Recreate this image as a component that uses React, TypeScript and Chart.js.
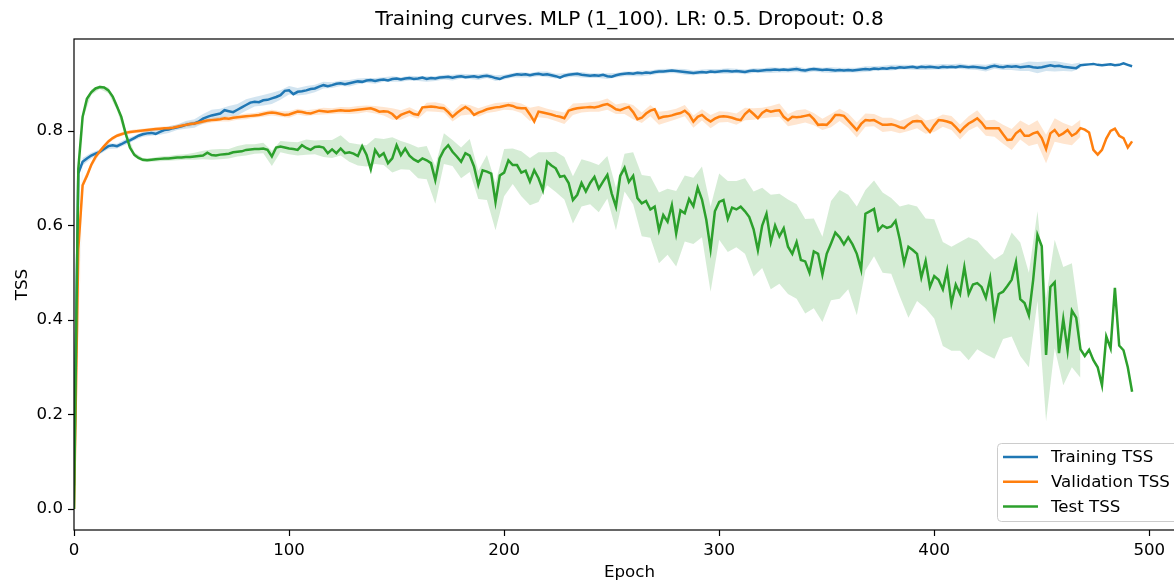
import { useEffect, useRef } from "react";
import { Chart, registerables } from "chart.js";

Chart.register(...registerables);

// ---------- data (epochs every 2, 0..492) ----------
const TRAIN = [
  0.05, 0.71, 0.735, 0.742, 0.748, 0.752, 0.756, 0.762, 0.768, 0.770,
  0.768, 0.772, 0.777, 0.780, 0.785, 0.790, 0.793, 0.795, 0.796, 0.794,
  0.798, 0.802, 0.803, 0.806, 0.808, 0.810, 0.813, 0.815, 0.816, 0.820,
  0.826, 0.830, 0.833, 0.835, 0.837, 0.844, 0.842, 0.840, 0.845, 0.850,
  0.855, 0.860, 0.862, 0.861, 0.865, 0.866, 0.869, 0.872, 0.876, 0.885,
  0.886, 0.878, 0.883, 0.884, 0.886, 0.889, 0.890, 0.894, 0.897, 0.895,
  0.897, 0.900, 0.901, 0.899, 0.901, 0.903, 0.905, 0.904, 0.907, 0.908,
  0.906, 0.908, 0.909, 0.907, 0.910, 0.911, 0.909, 0.911, 0.912, 0.910,
  0.911, 0.913, 0.910, 0.912, 0.911, 0.913, 0.914, 0.915, 0.913, 0.915,
  0.916, 0.914, 0.915, 0.916, 0.914, 0.916, 0.917, 0.915, 0.912, 0.910,
  0.914, 0.916, 0.918, 0.920, 0.919, 0.920, 0.918, 0.920, 0.921, 0.919,
  0.920, 0.918, 0.916, 0.913, 0.917, 0.919, 0.920, 0.921, 0.919, 0.918,
  0.917, 0.918, 0.917, 0.919, 0.916, 0.915, 0.918, 0.920, 0.921, 0.922,
  0.921, 0.923, 0.922, 0.924, 0.923, 0.925, 0.926, 0.926, 0.927, 0.928,
  0.927, 0.926, 0.925, 0.924, 0.923, 0.924, 0.925, 0.924, 0.926, 0.925,
  0.926, 0.927, 0.927, 0.926, 0.927, 0.926, 0.925, 0.927, 0.928, 0.927,
  0.928, 0.929, 0.929, 0.930, 0.929, 0.930, 0.929, 0.930, 0.931, 0.929,
  0.928, 0.930, 0.931, 0.930, 0.929, 0.930, 0.929, 0.928, 0.929, 0.928,
  0.929, 0.928, 0.929, 0.930, 0.931, 0.930, 0.932, 0.931, 0.933, 0.932,
  0.934, 0.933, 0.935, 0.934, 0.935, 0.936, 0.934, 0.936, 0.935, 0.936,
  0.935, 0.934, 0.936, 0.935, 0.936, 0.935, 0.937, 0.936, 0.935, 0.936,
  0.935, 0.934, 0.933, 0.936, 0.938, 0.936, 0.935, 0.937, 0.936, 0.937,
  0.935, 0.936, 0.937, 0.935, 0.934, 0.935, 0.937, 0.939, 0.937, 0.938,
  0.936, 0.935, 0.934, 0.933, 0.939, 0.940, 0.941, 0.942, 0.940, 0.939,
  0.940, 0.941, 0.939, 0.940, 0.943, 0.940, 0.937,
];

const VAL = [
  0.0, 0.55, 0.685, 0.705, 0.728, 0.745, 0.757, 0.768, 0.778, 0.785,
  0.790, 0.793, 0.796, 0.798, 0.799, 0.800, 0.801, 0.802, 0.803, 0.804,
  0.805, 0.806, 0.806, 0.807, 0.809, 0.811, 0.813, 0.815, 0.816, 0.818,
  0.820, 0.822, 0.823, 0.824, 0.825, 0.827, 0.826, 0.828, 0.829, 0.830,
  0.831, 0.832, 0.833, 0.834, 0.836, 0.838, 0.839, 0.838, 0.836, 0.834,
  0.835, 0.838, 0.841, 0.840, 0.838, 0.837, 0.840, 0.843, 0.842, 0.841,
  0.842, 0.843, 0.844, 0.843, 0.843, 0.844, 0.845, 0.846, 0.847, 0.848,
  0.845, 0.841, 0.842, 0.841, 0.836, 0.827, 0.834, 0.838, 0.841, 0.836,
  0.834, 0.850, 0.851, 0.852, 0.851, 0.849, 0.848, 0.840, 0.830, 0.838,
  0.845, 0.851, 0.845, 0.834, 0.839, 0.842, 0.846, 0.848, 0.850, 0.851,
  0.853, 0.855, 0.853, 0.849, 0.848, 0.848, 0.835, 0.820, 0.841, 0.839,
  0.837, 0.835, 0.832, 0.830, 0.827, 0.843, 0.846, 0.848, 0.849, 0.850,
  0.851, 0.850, 0.852, 0.855, 0.857, 0.852, 0.846, 0.844, 0.848, 0.851,
  0.840, 0.825, 0.828, 0.837, 0.843, 0.846, 0.827, 0.830, 0.831, 0.833,
  0.836, 0.838, 0.843, 0.835, 0.820, 0.830, 0.834, 0.826, 0.820, 0.826,
  0.830, 0.831, 0.830, 0.828, 0.825, 0.823, 0.836, 0.844, 0.836, 0.827,
  0.838, 0.844, 0.841, 0.843, 0.844, 0.830, 0.823, 0.830, 0.829, 0.830,
  0.832, 0.834, 0.825, 0.813, 0.814, 0.813, 0.822, 0.834, 0.834, 0.832,
  0.822, 0.812, 0.802, 0.815, 0.823, 0.822, 0.823, 0.818, 0.813, 0.813,
  0.814, 0.812, 0.808, 0.806, 0.814, 0.820, 0.821, 0.820, 0.808, 0.798,
  0.812, 0.823, 0.822, 0.820, 0.817, 0.808, 0.798, 0.808, 0.816, 0.821,
  0.827, 0.818, 0.806, 0.806, 0.806, 0.806, 0.793, 0.781, 0.782, 0.795,
  0.802, 0.790, 0.790, 0.795, 0.798, 0.785, 0.762, 0.795, 0.802, 0.790,
  0.795, 0.802, 0.790, 0.795, 0.806, 0.803, 0.797, 0.760, 0.750, 0.760,
  0.784, 0.800, 0.805, 0.790, 0.785, 0.765, 0.778,
];

const TEST = [
  0.0, 0.72, 0.83, 0.868, 0.882, 0.890, 0.893, 0.892, 0.886, 0.873,
  0.852, 0.830, 0.795, 0.765, 0.750, 0.743, 0.739, 0.738, 0.739, 0.740,
  0.741, 0.742, 0.742, 0.743, 0.744, 0.744, 0.745, 0.745, 0.746, 0.747,
  0.748, 0.754, 0.749, 0.748, 0.750, 0.751, 0.752, 0.755, 0.756, 0.757,
  0.760, 0.761, 0.762, 0.762, 0.763, 0.760, 0.746, 0.765, 0.767, 0.765,
  0.763, 0.762, 0.760, 0.770, 0.764, 0.760, 0.766, 0.767, 0.765, 0.753,
  0.761, 0.753, 0.763, 0.753, 0.755, 0.752, 0.747, 0.768, 0.750, 0.719,
  0.760, 0.746, 0.753, 0.732, 0.742, 0.770, 0.749, 0.763, 0.748, 0.740,
  0.735, 0.742, 0.738, 0.732, 0.696, 0.742, 0.760, 0.770, 0.756, 0.746,
  0.735, 0.753, 0.748, 0.725, 0.686, 0.717, 0.714, 0.710, 0.650, 0.706,
  0.712, 0.738, 0.728, 0.728, 0.712, 0.716, 0.693, 0.717, 0.700, 0.675,
  0.735, 0.727, 0.721, 0.703, 0.705, 0.690, 0.654, 0.665, 0.690, 0.672,
  0.690, 0.703, 0.678, 0.693, 0.707, 0.668, 0.640, 0.705, 0.722, 0.692,
  0.705, 0.658, 0.647, 0.652, 0.634, 0.640, 0.590, 0.622, 0.608, 0.643,
  0.583, 0.632, 0.626, 0.656, 0.641, 0.680, 0.655, 0.612, 0.550, 0.630,
  0.650, 0.654, 0.614, 0.638, 0.634, 0.640, 0.630, 0.618, 0.592, 0.548,
  0.600, 0.625, 0.565, 0.600, 0.577, 0.594, 0.555, 0.540, 0.565, 0.527,
  0.524, 0.500, 0.545, 0.540, 0.496, 0.540, 0.562, 0.585, 0.575, 0.560,
  0.575, 0.560, 0.540, 0.507, 0.625, 0.630, 0.635, 0.590, 0.600, 0.595,
  0.598, 0.610, 0.570, 0.520, 0.555, 0.548, 0.540, 0.490, 0.525, 0.470,
  0.493, 0.485, 0.465, 0.505, 0.435, 0.475, 0.455, 0.512, 0.455, 0.475,
  0.478, 0.470, 0.447, 0.488, 0.408, 0.455, 0.460, 0.472, 0.485, 0.522,
  0.444, 0.436, 0.410, 0.485, 0.580, 0.556, 0.326, 0.470, 0.480, 0.330,
  0.402, 0.336, 0.420, 0.405, 0.338, 0.324, 0.337, 0.315, 0.300, 0.262,
  0.365, 0.340, 0.468, 0.346, 0.336, 0.300, 0.248,
];

// ---------- bands (epochs every 4, 0..468) ----------
const TRAIN_SPREAD = [
  0.01, 0.008, 0.006, 0.005, 0.006, 0.005, 0.006, 0.005, 0.005, 0.006,
  0.006, 0.007, 0.006, 0.008, 0.009, 0.01, 0.012, 0.01, 0.011, 0.012,
  0.012, 0.01, 0.011, 0.012, 0.01, 0.009, 0.008, 0.009, 0.008, 0.007,
  0.006, 0.006, 0.007, 0.006, 0.005, 0.006, 0.005, 0.006, 0.005, 0.005,
  0.005, 0.006, 0.005, 0.005, 0.006, 0.005, 0.005, 0.006, 0.005, 0.006,
  0.005, 0.005, 0.006, 0.005, 0.005, 0.006, 0.005, 0.005, 0.005, 0.006,
  0.005, 0.005, 0.006, 0.005, 0.005, 0.005, 0.006, 0.005, 0.005, 0.005,
  0.005, 0.006, 0.005, 0.005, 0.005, 0.005, 0.006, 0.005, 0.005, 0.005,
  0.005, 0.006, 0.005, 0.005, 0.006, 0.005, 0.005, 0.005, 0.006, 0.005,
  0.005, 0.005, 0.006, 0.005, 0.005, 0.006, 0.005, 0.005, 0.005, 0.006,
  0.005, 0.006, 0.005, 0.006, 0.005, 0.006, 0.007, 0.006, 0.006, 0.007,
  0.008, 0.01, 0.012, 0.01, 0.011, 0.009, 0.008, 0.006,
];

const VAL_SPREAD = [
  0.0, 0.008, 0.006, 0.005, 0.004, 0.004, 0.004, 0.004, 0.004, 0.004,
  0.004, 0.004, 0.005, 0.005, 0.005, 0.005, 0.005, 0.005, 0.006, 0.005,
  0.006, 0.005, 0.006, 0.006, 0.006, 0.007, 0.006, 0.006, 0.006, 0.007,
  0.006, 0.007, 0.007, 0.008, 0.007, 0.008, 0.009, 0.012, 0.01, 0.009,
  0.008, 0.009, 0.01, 0.009, 0.01, 0.012, 0.01, 0.009, 0.008, 0.009,
  0.008, 0.009, 0.01, 0.014, 0.012, 0.01, 0.011, 0.012, 0.012, 0.01,
  0.01, 0.011, 0.012, 0.01, 0.012, 0.015, 0.011, 0.012, 0.014, 0.012,
  0.011, 0.012, 0.013, 0.012, 0.014, 0.012, 0.011, 0.012, 0.013, 0.012,
  0.011, 0.012, 0.014, 0.013, 0.015, 0.014, 0.013, 0.012, 0.014, 0.013,
  0.015, 0.016, 0.014, 0.013, 0.015, 0.014, 0.013, 0.014, 0.015, 0.014,
  0.014, 0.013, 0.015, 0.016, 0.015, 0.017, 0.016, 0.018, 0.02, 0.022,
  0.02, 0.022, 0.025, 0.03, 0.025, 0.022, 0.02, 0.018,
];

const TEST_UP = [
  0.0, 0.006, 0.006, 0.004, 0.006, 0.008, 0.008, 0.005, 0.004, 0.004,
  0.005, 0.005, 0.006, 0.006, 0.008, 0.01, 0.012, 0.012, 0.01, 0.012,
  0.012, 0.01, 0.012, 0.012, 0.012, 0.014, 0.016, 0.018, 0.014, 0.016,
  0.02, 0.028, 0.02, 0.025, 0.02, 0.025, 0.03, 0.045, 0.03, 0.025,
  0.03, 0.03, 0.03, 0.035, 0.025, 0.03, 0.035, 0.03, 0.035, 0.04,
  0.05, 0.035, 0.045, 0.05, 0.055, 0.02, 0.035, 0.04, 0.05, 0.05,
  0.045, 0.05, 0.04, 0.04, 0.03, 0.05, 0.06, 0.07, 0.08, 0.07,
  0.09, 0.08, 0.06, 0.07, 0.09, 0.06, 0.08, 0.06, 0.07, 0.08,
  0.08, 0.1, 0.09, 0.1, 0.08, 0.09, 0.07, 0.08, 0.09, 0.1,
  0.09, 0.1, 0.05, 0.06, 0.07, 0.06, 0.07, 0.09, 0.1, 0.09,
  0.12, 0.1, 0.12, 0.11, 0.12, 0.09, 0.1, 0.12, 0.08, 0.1,
  0.12, 0.09, 0.05, 0.12, 0.09, 0.11, 0.1, 0.05,
];

const TEST_DOWN = [
  0.0, 0.006, 0.006, 0.004, 0.006, 0.008, 0.008, 0.005, 0.004, 0.004,
  0.005, 0.005, 0.006, 0.006, 0.007, 0.008, 0.01, 0.01, 0.01, 0.01,
  0.012, 0.01, 0.01, 0.02, 0.012, 0.012, 0.012, 0.014, 0.015, 0.02,
  0.018, 0.015, 0.02, 0.02, 0.025, 0.03, 0.025, 0.03, 0.03, 0.03,
  0.035, 0.04, 0.05, 0.03, 0.03, 0.035, 0.035, 0.03, 0.06, 0.06,
  0.05, 0.04, 0.05, 0.05, 0.05, 0.05, 0.05, 0.05, 0.05, 0.05,
  0.045, 0.05, 0.05, 0.05, 0.05, 0.06, 0.07, 0.06, 0.07, 0.07,
  0.07, 0.06, 0.08, 0.08, 0.09, 0.08, 0.07, 0.08, 0.09, 0.1,
  0.09, 0.1, 0.1, 0.1, 0.12, 0.11, 0.12, 0.1, 0.12, 0.13,
  0.11, 0.13, 0.12, 0.1, 0.1, 0.1, 0.12, 0.15, 0.1, 0.1,
  0.09, 0.12, 0.1, 0.12, 0.14, 0.14, 0.12, 0.09, 0.1, 0.12,
  0.12, 0.11, 0.14, 0.14, 0.14, 0.14, 0.12, 0.06,
];

const X_TICKS = [0, 100, 200, 300, 400, 500];
const Y_TICKS = [0, 0.2, 0.4, 0.6, 0.8];
const LABELS = ["Training TSS", "Validation TSS", "Test TSS"];
const TITLE = "Training curves. MLP (1_100). LR: 0.5. Dropout: 0.8";

const COLORS = ["#1f77b4", "#ff7f0e", "#2ca02c"];
const BAND_COLORS = ["rgba(31,119,180,0.2)", "rgba(255,127,14,0.2)", "rgba(44,160,44,0.2)"];
const FONT = "'DejaVu Sans', sans-serif";
const FS = 16.67;

const EPOCH_STEP = 2;
const BAND_STEP = 4;

function linePoints(vals: number[]) {
  return vals.map((v, i) => ({ x: i * EPOCH_STEP, y: v }));
}
function bandPoints(mean: number[], off: number[], sign: number) {
  const r = BAND_STEP / EPOCH_STEP;
  return off.map((o, i) => ({ x: i * BAND_STEP, y: mean[i * r] + sign * o }));
}

const decorPlugin = {
  id: "decor",
  afterDatasetsDraw(chart: any) {
    const { ctx, chartArea: a } = chart;
    ctx.save();
    ctx.strokeStyle = "#000";
    ctx.lineWidth = 1.2;
    ctx.strokeRect(a.left, a.top, a.right - a.left, a.bottom - a.top);
    ctx.restore();
  },
  afterDraw(chart: any) {
    const { ctx, chartArea: a } = chart;
    ctx.save();
    // title
    ctx.fillStyle = "#000";
    ctx.font = `20px ${FONT}`;
    ctx.textAlign = "center";
    ctx.textBaseline = "middle";
    ctx.fillText(TITLE, (a.left + a.right) / 2, 20);
    // legend
    const bx = a.right - 188;
    const by = a.bottom - 87;
    const bw = 181;
    const bh = 78;
    ctx.beginPath();
    ctx.roundRect(bx + 0.5, by + 0.5, bw, bh, 4);
    ctx.fillStyle = "rgba(255,255,255,0.8)";
    ctx.fill();
    ctx.strokeStyle = "#cccccc";
    ctx.lineWidth = 1;
    ctx.stroke();
    ctx.font = `${FS}px ${FONT}`;
    ctx.textAlign = "left";
    ctx.textBaseline = "middle";
    LABELS.forEach((lab, i) => {
      const y = by + 14 + i * 24.7;
      ctx.beginPath();
      ctx.moveTo(bx + 6, y);
      ctx.lineTo(bx + 41, y);
      ctx.strokeStyle = COLORS[i];
      ctx.lineWidth = 2.5;
      ctx.stroke();
      ctx.fillStyle = "#000";
      ctx.fillText(lab, bx + 54, y + 1);
    });
    ctx.restore();
  },
};

export default function App() {
  const ref = useRef<HTMLCanvasElement | null>(null);
  useEffect(() => {
    if (!ref.current) return;
    const means = [TRAIN, VAL, TEST];
    const lines = means.map((m, i) => ({
      label: LABELS[i],
      data: linePoints(m),
      borderColor: COLORS[i],
      backgroundColor: COLORS[i],
      borderWidth: 2.5,
      pointRadius: 0,
      tension: 0,
      fill: false,
      order: 2 - i,
    }));
    const ups = [TRAIN_SPREAD, VAL_SPREAD, TEST_UP];
    const downs = [TRAIN_SPREAD, VAL_SPREAD, TEST_DOWN];
    const bands: any[] = [];
    means.forEach((m, i) => {
      bands.push({
        label: "band_lo_" + i,
        data: bandPoints(m, downs[i], -1),
        borderColor: "transparent",
        borderWidth: 0,
        pointRadius: 0,
        tension: 0,
        fill: false,
        order: 5,
      });
      bands.push({
        label: "band_hi_" + i,
        data: bandPoints(m, ups[i], 1),
        borderColor: "transparent",
        backgroundColor: BAND_COLORS[i],
        borderWidth: 0,
        pointRadius: 0,
        tension: 0,
        fill: "-1",
        order: 5,
      });
    });
    const tickFont = { family: FONT, size: FS };
    const chart = new Chart(ref.current, {
      type: "line",
      data: { datasets: [...lines, ...bands] as any },
      options: {
        responsive: false,
        animation: false,
        devicePixelRatio: 1,
        layout: { padding: { top: 39, right: 15, left: 0, bottom: 0 } },
        plugins: {
          legend: { display: false },
          title: { display: false },
          tooltip: { enabled: false },
        },
        scales: {
          x: {
            type: "linear",
            min: 0,
            max: 516.6,
            afterFit: (s: any) => {
              s.height = 51;
            },
            afterBuildTicks: (s: any) => {
              s.ticks = X_TICKS.map((v) => ({ value: v }));
            },
            ticks: {
              font: tickFont,
              color: "#000",
              padding: 5,
              maxRotation: 0,
              autoSkip: false,
              callback: (v: any) => String(v),
            },
            grid: {
              display: true,
              drawOnChartArea: false,
              drawTicks: true,
              tickLength: 6,
              tickColor: "#000",
              tickWidth: 1.2,
            },
            border: { display: false },
            title: {
              display: true,
              text: "Epoch",
              color: "#000",
              font: { family: FONT, size: FS, lineHeight: 1.0 },
              padding: { top: 0, bottom: 0 },
            },
          },
          y: {
            type: "linear",
            min: -0.0444,
            max: 0.9947,
            afterFit: (s: any) => {
              s.width = 74;
            },
            afterBuildTicks: (s: any) => {
              s.ticks = Y_TICKS.map((v) => ({ value: v }));
            },
            ticks: {
              font: tickFont,
              color: "#000",
              padding: 5,
              autoSkip: false,
              callback: (v: any) => Number(v).toFixed(1),
            },
            grid: {
              display: true,
              drawOnChartArea: false,
              drawTicks: true,
              tickLength: 6,
              tickColor: "#000",
              tickWidth: 1.2,
            },
            border: { display: false },
            title: {
              display: true,
              text: "TSS",
              color: "#000",
              font: { family: FONT, size: FS },
              padding: { top: 13, bottom: 0 },
            },
          },
        },
      },
      plugins: [decorPlugin],
    });
    return () => chart.destroy();
  }, []);
  return (
    <div
      style={{
        position: "absolute",
        left: 0,
        top: 0,
        width: 1174,
        height: 581,
        overflow: "hidden",
        background: "#fff",
      }}
    >
      <canvas ref={ref} width={1200} height={581} style={{ width: 1200, height: 581, display: "block" }} />
    </div>
  );
}
